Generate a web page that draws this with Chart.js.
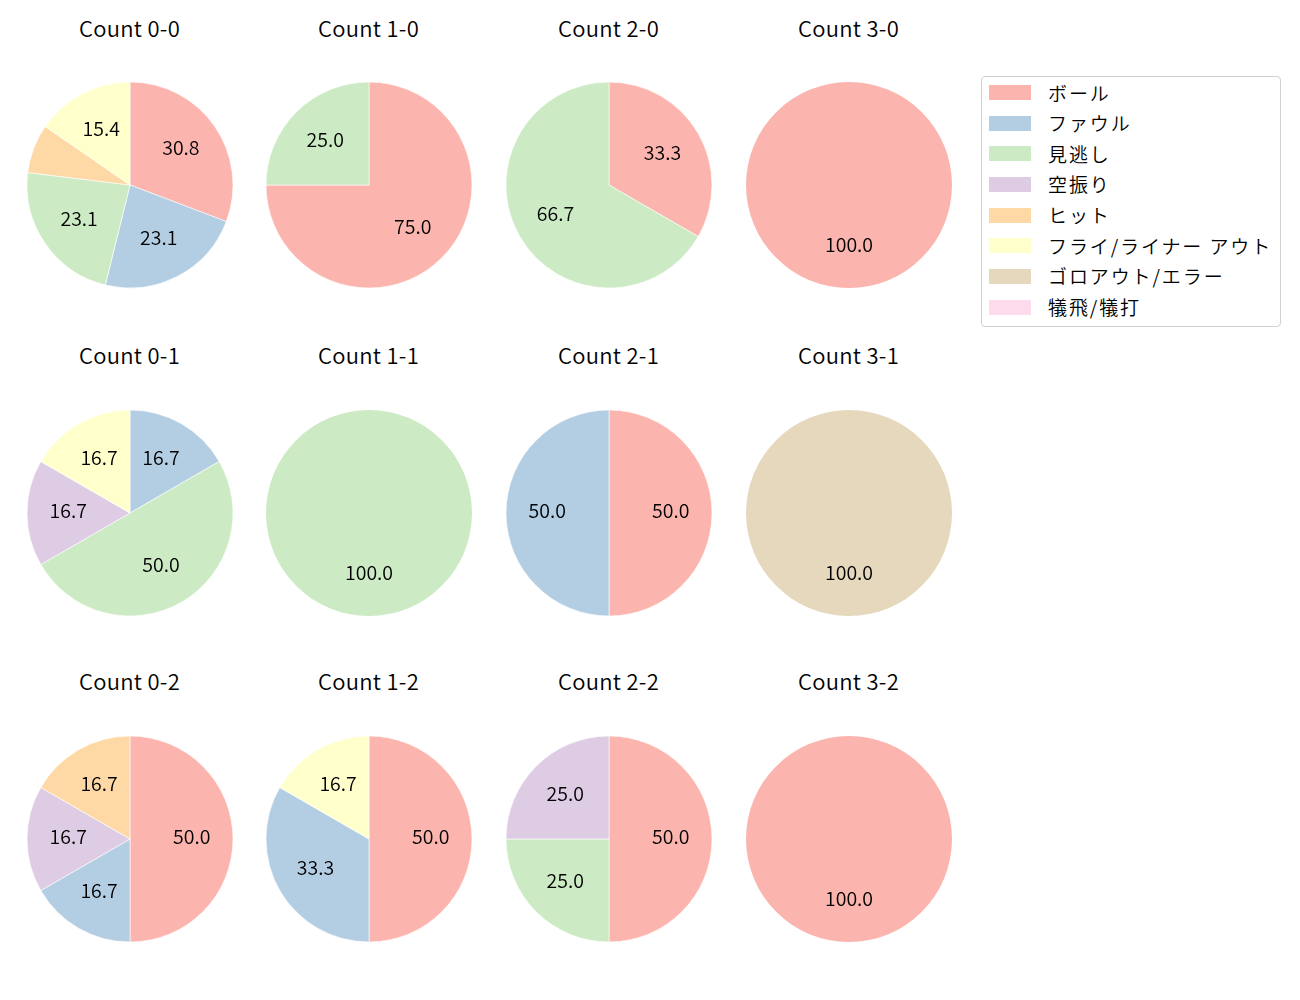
<!DOCTYPE html>
<html>
<head>
<meta charset="utf-8">
<script src="https://cdn.jsdelivr.net/npm/chart.js@4"></script>
<style>
  html, body { margin:0; padding:0; background:#fff; }
  body { width:1300px; height:1000px; position:relative; overflow:hidden;
         font-family:"Noto Sans CJK JP","Noto Sans",sans-serif; color:#000; }
  canvas { position:absolute; }
  .title { position:absolute; width:240px; text-align:center; font-size:22px; line-height:26px; font-weight:350; letter-spacing:0.3px; }
  #legend { position:absolute; left:981px; top:76px; width:298px; height:249px;
            border:1px solid #d0d0d0; border-radius:4px; background:#fff; }
  .patch { position:absolute; width:42px; height:15px; }
  .ltext { position:absolute; font-size:19px; line-height:30px; white-space:pre; letter-spacing:1.9px; font-weight:350; }
</style>
</head>
<body>
<div id="legend"></div>
<script>
// ---- data ----
const categories = ['ボール','ファウル','見逃し','空振り','ヒット','フライ/ライナー アウト','ゴロアウト/エラー','犠飛/犠打'];
const colors = ['#fbb4ae','#b3cde3','#ccebc5','#decbe4','#fed9a6','#ffffcc','#e5d8bd','#fddaec'];
const chartTitles = ['Count 0-0','Count 1-0','Count 2-0','Count 3-0',
                     'Count 0-1','Count 1-1','Count 2-1','Count 3-1',
                     'Count 0-2','Count 1-2','Count 2-2','Count 3-2'];
// counts per category (order = categories)
const count00 = [4,3,3,0,1,2,0,0];
const count10 = [3,0,1,0,0,0,0,0];
const count20 = [1,0,2,0,0,0,0,0];
const count30 = [1,0,0,0,0,0,0,0];
const count01 = [0,1,3,1,0,1,0,0];
const count11 = [0,0,1,0,0,0,0,0];
const count21 = [1,1,0,0,0,0,0,0];
const count31 = [0,0,0,0,0,0,1,0];
const count02 = [3,1,0,1,1,0,0,0];
const count12 = [3,2,0,0,0,1,0,0];
const count22 = [2,0,1,1,0,0,0,0];
const count32 = [1,0,0,0,0,0,0,0];
const allCounts = [count00,count10,count20,count30,count01,count11,count21,count31,count02,count12,count22,count32];

// ---- layout ----
const colX = [129.5, 368.5, 608.5, 848.5];
const rowY = [184.5, 512.5, 838.5];
const titleY = [27, 354, 680];
const R = 103;
const CANVAS = 240;
const LABEL_FONT = '350 19.5px "Noto Sans CJK JP"';

const labelPlugin = {
  id: 'pctLabels',
  afterDatasetsDraw(chart) {
    const ctx = chart.ctx;
    const data = chart.data.datasets[0].data;
    const total = data.reduce((a,b)=>a+b,0);
    const meta = chart.getDatasetMeta(0);
    ctx.save();
    ctx.font = LABEL_FONT;
    ctx.fillStyle = '#000';
    ctx.textAlign = 'center';
    ctx.textBaseline = 'middle';
    meta.data.forEach((arc, i) => {
      const pct = data[i] / total * 100;
      if (pct < 10) return;
      const p = arc.getProps(['x','y','startAngle','endAngle','outerRadius'], true);
      const mid = (p.startAngle + p.endAngle) / 2;
      const r = p.outerRadius * 0.6;
      ctx.fillText(pct.toFixed(1), p.x + Math.cos(mid)*r, p.y + Math.sin(mid)*r - 2);
    });
    ctx.restore();
  }
};

allCounts.forEach((vals, k) => {
  const c = k % 4, r = Math.floor(k / 4);
  const cx = colX[c], cy = rowY[r];
  const t = document.createElement('div');
  t.className = 'title';
  t.textContent = chartTitles[k];
  t.style.left = (cx - 120) + 'px';
  t.style.top = (titleY[r] - 13) + 'px';
  document.body.appendChild(t);

  const cv = document.createElement('canvas');
  cv.width = CANVAS; cv.height = CANVAS;
  cv.style.width = CANVAS + 'px'; cv.style.height = CANVAS + 'px';
  cv.style.left = (cx - CANVAS/2) + 'px';
  cv.style.top = (cy - CANVAS/2) + 'px';
  document.body.appendChild(cv);
  const nonzero = vals.filter(v => v > 0).length;
  new Chart(cv.getContext('2d'), {
    type: 'pie',
    data: {
      labels: categories,
      datasets: [{
        data: vals,
        backgroundColor: colors,
        borderColor: '#ffffff',
        borderWidth: (ctx) => (nonzero > 1 && vals[ctx.dataIndex] > 0) ? 0.6 : 0,
        radius: R
      }]
    },
    options: {
      responsive: false,
      animation: false,
      devicePixelRatio: 1,
      layout: { padding: 0 },
      plugins: { legend: { display: false }, tooltip: { enabled: false }, title: { display: false } }
    },
    plugins: [labelPlugin]
  });
});

// ---- legend ----
const legend = document.getElementById('legend');
const legendRow0 = 92.5 - 77, legendStep = 30.65;
categories.forEach((name, i) => {
  const cyL = legendRow0 + i * legendStep;
  const p = document.createElement('div');
  p.className = 'patch';
  p.style.background = colors[i];
  p.style.left = (989 - 982) + 'px';
  p.style.top = (cyL - 7.5) + 'px';
  legend.appendChild(p);
  const tx = document.createElement('div');
  tx.className = 'ltext';
  tx.textContent = name;
  tx.style.left = (1048 - 982) + 'px';
  tx.style.top = (cyL - 15) + 'px';
  legend.appendChild(tx);
});
</script>
</body>
</html>
